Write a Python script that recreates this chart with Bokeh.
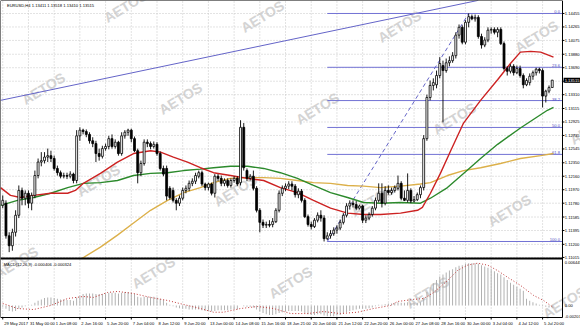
from bokeh.plotting import figure
from bokeh.models import Range1d, Label, ColumnDataSource
from bokeh.embed import file_html
from bokeh.resources import INLINE
from bokeh.core.properties import value

# ---------------- data (EURUSD H4) ----------------
opens = [1.1175,1.1178,1.1132,1.1118,1.1137,1.1161,1.1196,1.1185,1.1192,1.1178,
1.1189,1.1217,1.1236,1.1238,1.1243,1.1245,1.1241,1.1227,1.1221,1.1216,
1.1217,1.1216,1.1219,1.1210,1.1273,1.1281,1.1279,1.1275,1.1266,1.1262,
1.1248,1.1244,1.1255,1.1258,1.1269,1.1258,1.1264,1.1248,1.1273,1.1278,
1.1281,1.1269,1.1252,1.1221,1.1234,1.1264,1.1262,1.1258,1.1261,1.1248,
1.1227,1.1227,1.1199,1.1196,1.1182,1.1178,1.1185,1.1196,1.1199,1.1206,
1.1209,1.1216,1.1221,1.1205,1.1200,1.1205,1.1192,1.1216,1.1213,1.1206,
1.1210,1.1203,1.1210,1.1213,1.1207,1.1285,1.1224,1.1213,1.1216,1.1199,
1.1168,1.1151,1.1147,1.1148,1.1148,1.1152,1.1168,1.1192,1.1199,1.1202,
1.1205,1.1202,1.1190,1.1195,1.1182,1.1159,1.1148,1.1145,1.1154,1.1161,
1.1157,1.1128,1.1132,1.1135,1.1140,1.1143,1.1151,1.1161,1.1174,1.1178,
1.1176,1.1171,1.1174,1.1154,1.1157,1.1162,1.1171,1.1182,1.1192,1.1178,
1.1196,1.1193,1.1196,1.1199,1.1206,1.1185,1.1182,1.1196,1.1181,1.1183,
1.1190,1.1200,1.1269,1.1327,1.1344,1.1345,1.1358,1.1372,1.1365,1.1376,
1.1379,1.1386,1.1415,1.1426,1.1405,1.1433,1.1441,1.1438,1.1440,1.1413,
1.1401,1.1408,1.1422,1.1423,1.1419,1.1423,1.1403,1.1368,1.1364,1.1371,
1.1362,1.1368,1.1358,1.1345,1.1348,1.1357,1.1362,1.1367,1.1365,1.1329,
1.1336,1.13411]
highs = [1.1189,1.1182,1.1137,1.1142,1.1168,1.1203,1.1200,1.1196,1.1196,1.1193,
1.1224,1.1241,1.1250,1.1250,1.1255,1.1252,1.1245,1.1231,1.1224,1.1221,
1.1221,1.1223,1.1221,1.1281,1.1285,1.1283,1.1282,1.1278,1.1271,1.1266,
1.1255,1.1259,1.1262,1.1273,1.1275,1.1268,1.1266,1.1278,1.1281,1.1283,
1.1283,1.1272,1.1255,1.1238,1.1268,1.1268,1.1265,1.1265,1.1264,1.1251,
1.1231,1.1231,1.1202,1.1200,1.1185,1.1189,1.1200,1.1203,1.1210,1.1213,
1.1221,1.1224,1.1224,1.1207,1.1207,1.1207,1.1219,1.1219,1.1217,1.1213,
1.1213,1.1213,1.1216,1.1216,1.1295,1.1291,1.1227,1.1219,1.1224,1.1202,
1.1171,1.1155,1.1152,1.1154,1.1157,1.1171,1.1196,1.1203,1.1206,1.1209,
1.1209,1.1205,1.1199,1.1198,1.1185,1.1162,1.1152,1.1157,1.1165,1.1168,
1.1161,1.1137,1.1140,1.1144,1.1147,1.1155,1.1164,1.1178,1.1182,1.1182,
1.1181,1.1176,1.1176,1.1161,1.1165,1.1174,1.1186,1.1206,1.1206,1.1202,
1.1203,1.1200,1.1203,1.1217,1.1209,1.1196,1.1220,1.1199,1.1188,1.1193,
1.1203,1.1274,1.1331,1.1351,1.1354,1.1365,1.1384,1.1379,1.1382,1.1385,
1.1391,1.1419,1.1430,1.1429,1.1436,1.14455,1.1444,1.1444,1.1443,1.1417,
1.1412,1.1426,1.1426,1.1426,1.1426,1.1426,1.1406,1.1371,1.1374,1.1374,
1.1372,1.1372,1.1361,1.1354,1.1361,1.1365,1.1369,1.1369,1.1368,1.1338,
1.1344,1.13518]
lows = [1.1171,1.1128,1.1109,1.1111,1.1131,1.1157,1.1175,1.1175,1.1171,1.1168,
1.1185,1.1213,1.1230,1.1234,1.1236,1.1236,1.1224,1.1217,1.1213,1.1213,
1.1212,1.1213,1.1206,1.1206,1.1266,1.1275,1.1271,1.1262,1.1257,1.1236,
1.1238,1.1241,1.1252,1.1254,1.1255,1.1255,1.1245,1.1245,1.1269,1.1273,
1.1264,1.1250,1.1206,1.1216,1.1231,1.1257,1.1254,1.1255,1.1245,1.1224,
1.1216,1.1182,1.1183,1.1179,1.1168,1.1174,1.1182,1.1192,1.1195,1.1202,
1.1205,1.1213,1.1202,1.1196,1.1196,1.1189,1.1186,1.1209,1.1202,1.1202,
1.1200,1.1200,1.1207,1.1202,1.1203,1.1224,1.1209,1.1210,1.1196,1.1165,
1.1137,1.1143,1.1143,1.1144,1.1144,1.1150,1.1165,1.1188,1.1195,1.1198,
1.1196,1.1186,1.1185,1.1179,1.1157,1.1145,1.1141,1.1143,1.1151,1.1152,
1.1124,1.1126,1.1128,1.1132,1.1135,1.1140,1.1148,1.1158,1.1169,1.1172,
1.1168,1.1169,1.1150,1.1150,1.1154,1.1159,1.1168,1.1179,1.1172,1.1175,
1.1190,1.1190,1.1193,1.1196,1.1182,1.1181,1.1179,1.1178,1.1179,1.1181,
1.1185,1.1196,1.1266,1.1323,1.1337,1.1340,1.1354,1.1292,1.1362,1.1371,
1.1376,1.1382,1.1410,1.1402,1.1402,1.1426,1.1436,1.1434,1.1410,1.1396,
1.1398,1.1405,1.1417,1.1416,1.1412,1.1401,1.1365,1.1358,1.1361,1.1358,
1.1360,1.1355,1.1340,1.1343,1.1344,1.1352,1.1358,1.1361,1.1313,1.1320,
1.1333,1.13410]
closes = [1.1182,1.1132,1.1118,1.1137,1.1161,1.1196,1.1185,1.1192,1.1178,1.1189,
1.1217,1.1236,1.1238,1.1243,1.1245,1.1241,1.1227,1.1221,1.1216,1.1217,
1.1216,1.1219,1.1210,1.1273,1.1281,1.1279,1.1275,1.1266,1.1262,1.1248,
1.1244,1.1255,1.1258,1.1269,1.1258,1.1264,1.1248,1.1273,1.1278,1.1281,
1.1269,1.1252,1.1221,1.1234,1.1264,1.1262,1.1258,1.1261,1.1248,1.1227,
1.1219,1.1188,1.1186,1.1182,1.1178,1.1185,1.1196,1.1199,1.1206,1.1209,
1.1217,1.1221,1.1205,1.1200,1.1205,1.1192,1.1216,1.1213,1.1206,1.1210,
1.1203,1.1210,1.1213,1.1205,1.1285,1.1228,1.1213,1.1216,1.1199,1.1168,
1.1151,1.1147,1.1148,1.1147,1.1152,1.1168,1.1192,1.1199,1.1202,1.1205,
1.1202,1.1190,1.1195,1.1182,1.1159,1.1148,1.1145,1.1154,1.1161,1.1157,
1.1128,1.1132,1.1135,1.1140,1.1143,1.1151,1.1161,1.1174,1.1178,1.1176,
1.1171,1.1174,1.1154,1.1157,1.1162,1.1171,1.1182,1.1192,1.1178,1.1196,
1.1193,1.1196,1.1200,1.1206,1.1185,1.1182,1.1196,1.1181,1.1183,1.1190,
1.1200,1.1269,1.1327,1.1344,1.1348,1.1358,1.1375,1.1365,1.1376,1.1379,
1.1386,1.1415,1.1426,1.1405,1.1433,1.1441,1.1438,1.1440,1.1413,1.1401,
1.1408,1.1422,1.1423,1.1419,1.1423,1.1403,1.1368,1.1364,1.1371,1.1362,
1.1368,1.1358,1.1345,1.1351,1.1357,1.1362,1.1367,1.1365,1.1329,1.1336,
1.1341,1.13515]

# moving averages (bar position, price)
red_x = [-0.7,2.4,5.5,9.6,14.9,20.2,22.6,25.1,30.4,35.7,40.7,46,49.1,53.1,57.5,61.5,65.6,70.9,76.2,81.2,
         86.4,91.7,96.7,102,107.3,112.3,117.6,123.8,129.1,130.6,133.1,136.2,139.4,143.4,148.7,154,158,161.1,164.3,167.4,171.4]
red_y = [1.1200,1.1189,1.1186,1.1189,1.1192,1.1192,1.1196,1.1206,1.1220,1.1236,1.1248,1.1252,1.1250,1.1243,1.1236,1.1228,
         1.1221,1.1217,1.1213,1.1210,1.1200,1.1193,1.1182,1.1171,1.1164,1.1162,1.1162,1.1164,1.1168,1.1172,1.1192,1.1220,
         1.1252,1.1291,1.1323,1.1352,1.1375,1.1391,1.1392,1.1391,1.1384]
green_x = [-0.7,4.6,9.6,14.9,20.2,25.1,30.4,35.7,40.7,46,51.3,56.3,61.5,65.6,70.9,76.2,81.2,86.4,91.7,96.7,102,
           107.3,112.3,117.6,123.8,130,133.1,138.4,143.4,148.7,154,161.1,169.5,171.4]
green_y = [1.1175,1.1182,1.1186,1.1192,1.1200,1.1206,1.1207,1.1210,1.1217,1.1220,1.1221,1.1224,1.1226,1.1228,1.1230,
           1.1230,1.1227,1.1221,1.1213,1.1203,1.1193,1.1186,1.1179,1.1178,1.1179,1.1178,1.1185,1.1200,1.1220,1.1241,
           1.1261,1.1284,1.1309,1.1313]
yellow_x = [24.6,30.4,35.7,40.7,46,51.3,56.3,61.5,65.6,70.9,76.2,81.2,86.4,91.7,96.7,102,107.3,112.3,117.6,123.8,
            130,133.1,138.4,143.4,148.7,154.9,161.1,167.4,171.4]
yellow_y = [1.1100,1.1116,1.1133,1.1150,1.1168,1.1182,1.1193,1.1200,1.1207,1.1213,1.1214,1.1214,1.1213,1.1210,1.1207,
            1.1206,1.1203,1.1202,1.1200,1.1202,1.1205,1.1207,1.1217,1.1224,1.1228,1.1234,1.1241,1.1245,1.1248]

# trend line anchors and fibonacci retracement
trend_x = [-0.7, 148.0]
trend_y = [1.1323, 1.1464]
fib_names = ["0.0", "23.6", "38.2", "50.0", "61.8", "100.0"]
fib_prices = [1.14455, 1.13696, 1.13227, 1.12848, 1.12468, 1.1124]
fib_start_bar = 101
fib_high_bar = 145

# MACD(12,26,9)
macd_main = [-0.0002,-0.0005,-0.0008,-0.0009,-0.0008,-0.0005,-0.0003,-0.0001,0.0,0.0001,
0.0004,0.0007,0.0009,0.0011,0.0012,0.0012,0.0011,0.0010,0.0009,0.0009,
0.0008,0.0008,0.0007,0.0012,0.0015,0.0017,0.0018,0.0018,0.0018,0.0017,
0.0017,0.0017,0.0018,0.0019,0.0019,0.0019,0.0018,0.0019,0.0020,0.0020,
0.0019,0.0017,0.0013,0.0012,0.0013,0.0013,0.0013,0.0013,0.0012,0.0010,
0.0008,0.0004,0.0001,-0.0001,-0.0003,-0.0004,-0.0005,-0.0005,-0.0006,-0.0006,
-0.0006,-0.0006,-0.0007,-0.0008,-0.0008,-0.0009,-0.0008,-0.0007,-0.0007,-0.0007,
-0.0007,-0.0006,-0.0006,-0.0006,0.0,-0.0001,-0.0002,-0.0002,-0.0003,-0.0006,
-0.0009,-0.0011,-0.0013,-0.0014,-0.0014,-0.0013,-0.0011,-0.0010,-0.0009,-0.0008,
-0.0008,-0.0008,-0.0008,-0.0009,-0.0011,-0.0013,-0.0014,-0.0014,-0.0013,-0.0013,
-0.0015,-0.0016,-0.0016,-0.0016,-0.0015,-0.0014,-0.0012,-0.0010,-0.0008,-0.0007,
-0.0006,-0.0005,-0.0005,-0.0005,-0.0004,-0.0003,-0.0001,0.0001,0.0001,0.0002,
0.0003,0.0003,0.0004,0.0005,0.0004,0.0004,0.0005,0.0004,0.0004,0.0004,
0.0005,0.0012,0.0020,0.0027,0.0033,0.0038,0.0043,0.0046,0.0049,0.0052,
0.0054,0.0057,0.0059,0.0060,0.0062,0.0063,0.0063,0.0063,0.0062,0.0060,
0.0058,0.0056,0.0054,0.0051,0.0048,0.0046,0.0042,0.0038,0.0034,0.0031,
0.0028,0.0025,0.0022,0.0010,0.0007,0.0005,0.0003,0.0001,-0.0001,-0.0002,
-0.0003,-0.000406]
signal_x = [0,4.6,9.6,14.9,20.2,25.1,28.2,32.6,35.7,40.7,46,51.3,56.3,61.5,65.6,68.7,74,79.3,84.3,89.6,94.8,99.8,
            105.1,110.4,115.4,120.7,122.9,127.8,131,134.1,138.4,141.5,144.6,147.8,150.9,154,157.1,161.1,165.2,168.3,171.4]
signal_y = [0.0003,-0.00045,-0.0006,0.0,0.00104,0.00134,0.0012,0.00194,0.00209,0.00179,0.0012,0.00075,0.00015,-0.00045,
            -0.001,-0.001,-0.00045,-0.00015,-0.00045,-0.0012,-0.0012,-0.0009,-0.0012,-0.001,-0.00045,0.0,0.0006,0.0009,
            0.00104,0.00194,0.0037,0.0052,0.006,0.0063,0.006,0.0052,0.0042,0.003,0.0015,0.00075,-0.000324]

price_ticks = [1.14455,1.14265,1.14075,1.13880,1.13690,1.13500,1.13310,1.13115,1.12925,1.12735,
               1.12545,1.12350,1.12160,1.11970,1.11780,1.11585,1.11395,1.11200,1.11015]
last_price = 1.13515
macd_ticks = [0.006445, 0.0, -0.0016]
macd_tick_text = ["0.006445", "0.00", "-0.002037"]
time_bars = [0,8,16,24,32,40,48,56,64,72,80,88,96,104,112,120,128,136,144,152,160,168]
time_labels = ["29 May 2017","31 May 00:00","1 Jun 08:00","2 Jun 16:00","5 Jun 20:00","7 Jun 04:00",
               "8 Jun 12:00","9 Jun 20:00","13 Jun 00:00","14 Jun 08:00","15 Jun 16:00","18 Jun 21:00",
               "20 Jun 04:00","21 Jun 12:00","22 Jun 20:00","26 Jun 00:00","27 Jun 08:00","28 Jun 16:00",
               "30 Jun 00:00","3 Jul 04:00","4 Jul 12:00","5 Jul 20:00"]
header = "EURUSD,H4  1.13411 1.13518 1.13410 1.13515"
macd_header = "MACD(12,26,9) -0.000406 -0.000324"
watermark = "AETOS"

# ---------------- layout constants ----------------
FONT = "Liberation Sans"
FS = "4.1px"
PXW, PXH = 580, 327
BAR_PX = 3.2133            # pixels per bar
PRICE_PX = 0.000141        # price per pixel
MACD_PX = 0.0001488        # macd units per pixel
X0 = -0.7
X1 = X0 + PXW / BAR_PX
XR = 174.2                 # price scale line (right edge of the panels)
P_HI = 1.14638
P_LO = P_HI - PXH * PRICE_PX
M_HI = 305 * MACD_PX
M_LO = M_HI - PXH * MACD_PX
MAIN_BOTTOM = 1.1100
MACD_BOTTOM = P_HI - 317 * PRICE_PX
TIME_Y = P_HI - 322.5 * PRICE_PX
BLUE = "#7272d4"
GRID = "#c6c6c6"

p = figure(width=PXW, height=PXH, x_range=Range1d(X0, X1), y_range=Range1d(P_LO, P_HI),
           x_axis_location=None, y_axis_location=None, output_backend="svg", toolbar_location=None,
           min_border=0, background_fill_color="white", border_fill_color="white",
           outline_line_color=None)
p.extra_y_ranges = {"macd": Range1d(M_LO, M_HI)}
p.xgrid.visible = False
p.ygrid.visible = False

# watermark tiles (screen pixels from the top-left corner)
for r in range(-2, 5):
    for c in range(-2, 6):
        wx = 43 + c * 137 + r * 55
        wy = 88 + c * 10 + r * 92
        if -40 < wx < 630 and -25 < wy < 350:
            p.add_layout(Label(x=wx, y=PXH - wy, x_units="screen", y_units="screen", text=watermark,
                               angle=0.55, text_align="center", text_baseline="middle",
                               text_font=FONT, text_font_style="bold", text_font_size="14px",
                               text_color="#d4d4d4", level="underlay"))

# grid (dotted)
p.segment(x0=time_bars, y0=[MACD_BOTTOM] * len(time_bars), x1=time_bars, y1=[P_HI] * len(time_bars),
          line_color=GRID, line_width=1, line_dash="1 2")
p.segment(x0=[X0] * len(price_ticks), y0=price_ticks, x1=[XR] * len(price_ticks), y1=price_ticks,
          line_color=GRID, line_width=1, line_dash="1 2")

# trend line and fibonacci
p.line(trend_x, trend_y, line_color="#6464c8", line_width=1)
p.segment(x0=[fib_start_bar] * len(fib_prices), y0=fib_prices, x1=[XR] * len(fib_prices), y1=fib_prices,
          line_color=BLUE, line_width=1)
p.segment(x0=[fib_start_bar], y0=[fib_prices[-1]], x1=[fib_high_bar], y1=[fib_prices[0]],
          line_color="#6464c8", line_width=1, line_dash="4 3")
p.text(x=[XR - 0.8] * len(fib_prices), y=fib_prices, text=fib_names, text_align="right",
       text_baseline="bottom", text_font=value(FONT), text_font_size=FS, text_color="#5050c0")

# moving averages
p.line(yellow_x, yellow_y, line_color="#dcb04a", line_width=1.4)
p.line(green_x, green_y, line_color="#2c8a2c", line_width=1.4)
p.line(red_x, red_y, line_color="#cc2222", line_width=1.4)

# candles
bars = list(range(len(closes)))
src = ColumnDataSource(dict(
    x=bars, h=highs, l=lows,
    top=[max(o, c) for o, c in zip(opens, closes)],
    bot=[min(o, c) for o, c in zip(opens, closes)],
    fill=["white" if c >= o else "black" for o, c in zip(opens, closes)]))
p.segment(x0="x", y0="l", x1="x", y1="h", source=src, line_color="black", line_width=0.9)
p.vbar(x="x", top="top", bottom="bot", width=0.6, source=src, fill_color="fill",
       line_color="black", line_width=0.8)

# MACD
p.vbar(x=bars, top=macd_main, bottom=0, width=0.28, y_range_name="macd",
       fill_color="#a9a9a9", line_color=None)
p.line(signal_x, signal_y, y_range_name="macd", line_color="#c03a3a", line_width=1, line_dash="1 2")

# frame lines, scale lines and ticks
p.segment(x0=[X0, X0, X0, X0], y0=[P_HI, MAIN_BOTTOM, MACD_BOTTOM, MACD_BOTTOM],
          x1=[XR, XR, XR, X0], y1=[P_HI, MAIN_BOTTOM, MACD_BOTTOM, P_HI],
          line_color="black", line_width=[1, 2, 1, 1])
p.segment(x0=[XR], y0=[MACD_BOTTOM], x1=[XR], y1=[P_HI], line_color="black", line_width=1)
p.segment(x0=[XR] * len(price_ticks), y0=price_ticks, x1=[XR + 0.6] * len(price_ticks), y1=price_ticks,
          line_color="black", line_width=1)
p.segment(x0=time_bars, y0=[MACD_BOTTOM] * len(time_bars), x1=time_bars,
          y1=[MACD_BOTTOM - 2 * PRICE_PX] * len(time_bars), line_color="black", line_width=1)

# scale texts
p.text(x=[XR + 0.7] * len(price_ticks), y=price_ticks, text=[f"{t:.5f}" for t in price_ticks],
       text_align="left", text_baseline="middle", text_font=value(FONT), text_font_size=FS,
       text_color="black")
p.add_layout(Label(x=XR + 0.35, y=last_price, text=f"{last_price:.5f}", text_font=FONT,
                   text_font_size=FS, text_color="white", text_baseline="middle",
                   background_fill_color="black", padding=1))
p.text(x=[XR + 0.7] * len(macd_ticks), y=macd_ticks, text=macd_tick_text, y_range_name="macd",
       text_align="left", text_baseline="middle", text_font=value(FONT), text_font_size=FS,
       text_color="black")
p.text(x=time_bars, y=[TIME_Y] * len(time_bars), text=time_labels, x_offset=1.5,
       text_align="left", text_baseline="middle", text_font=value(FONT), text_font_size=FS,
       text_color="black")

# headers
p.text(x=[X0 + 2.0], y=[P_HI - 4.5 * PRICE_PX], text=[header], text_align="left", text_baseline="middle",
       text_font=value(FONT), text_font_size=FS, text_color="black")
p.text(x=[X0 + 1.0], y=[P_HI - 263.5 * PRICE_PX], text=[macd_header], text_align="left",
       text_baseline="middle", text_font=value(FONT), text_font_size=FS, text_color="black")

open("out.html", "w").write(file_html(p, INLINE))
